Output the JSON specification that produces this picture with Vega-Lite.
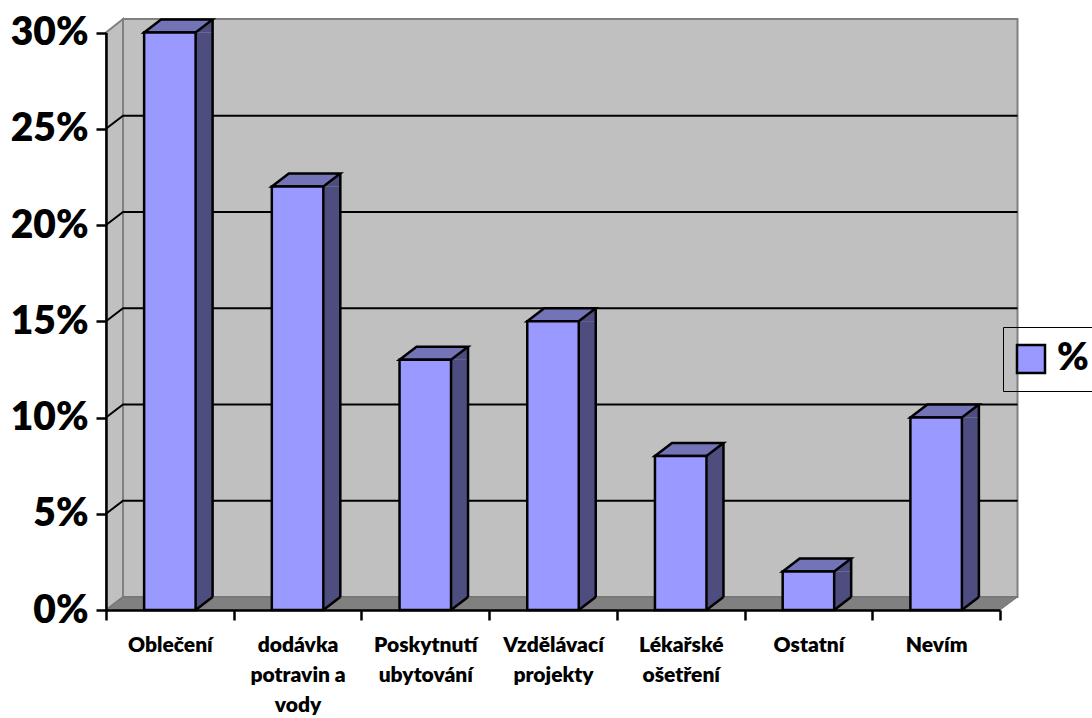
{
"$schema":"https://vega.github.io/schema/vega-lite/v6.json",
"width":911,"height":592,
"autosize":{"type":"none"},
"padding":{"left":106,"top":18,"right":75,"bottom":108},
"background":"white",
"view":{"stroke":null},
"datasets":{
 "bars":[
  {"category":"Oblečení","value":30},
  {"category":"dodávka potravin a vody","value":22},
  {"category":"Poskytnutí ubytování","value":13},
  {"category":"Vzdělávací projekty","value":15},
  {"category":"Lékařské ošetření","value":8},
  {"category":"Ostatní","value":2},
  {"category":"Nevím","value":10}
 ],
 "anchor":[{"category":"Oblečení","value":0}],
 "grid":[
  {"category":"Oblečení","value":5},
  {"category":"Oblečení","value":10},
  {"category":"Oblečení","value":15},
  {"category":"Oblečení","value":20},
  {"category":"Oblečení","value":25}
 ]
},
"data":{"name":"bars"},
"encoding":{
 "x":{"field":"category","type":"nominal","title":null,
  "scale":{"domain":["Oblečení","dodávka potravin a vody","Poskytnutí ubytování","Vzdělávací projekty","Lékařské ošetření","Ostatní","Nevím"],"range":[0,894],"paddingInner":0,"paddingOuter":0},
  "axis":{"tickBand":"extent","labelAngle":0,"domainColor":"black","domainWidth":2.5,"tickColor":"black","tickWidth":2.5,"tickSize":10,"labelFont":"Lato","labelFontWeight":800,"labelFontSize":21,"labelColor":"black","labelPadding":14,"labelLimit":0,"labelLineHeight":30,"labelBaseline":"top","labelExpr":"datum.value=='dodávka potravin a vody'?['dodávka','potravin a','vody']:datum.value=='Poskytnutí ubytování'?['Poskytnutí','ubytování']:datum.value=='Vzdělávací projekty'?['Vzdělávací','projekty']:datum.value=='Lékařské ošetření'?['Lékařské','ošetření']:datum.value","zindex":1}},
 "y":{"field":"value","type":"quantitative","title":null,
  "scale":{"domain":[0,30],"range":[592,14.5],"nice":false,"zero":false},
  "axis":{"values":[0,5,10,15,20,25,30],"labelExpr":"datum.value+'%'","grid":false,"domainColor":"black","domainWidth":2.5,"tickColor":"black","tickWidth":2.5,"tickSize":10,"labelFont":"Lato","labelFontWeight":800,"labelFontSize":39,"labelColor":"black","labelPadding":8,"zindex":1}}
},
"layer":[
 {"data":{"name":"anchor"},"mark":{"type":"point","filled":true,"opacity":1,"size":4,"fill":"#c0c0c0","stroke":"#808080","strokeWidth":2,"shape":"M-63.85 0 L-46.85 -13 L-46.85 -591 L-63.85 -577.5 Z"}},
 {"data":{"name":"anchor"},"mark":{"type":"point","filled":true,"opacity":1,"size":4,"fill":"#c0c0c0","stroke":"#808080","strokeWidth":2,"shape":"M-46.85 -13 L847.65 -13 L847.65 -591 L-46.85 -591 Z"}},
 {"data":{"name":"anchor"},"mark":{"type":"point","filled":true,"opacity":1,"size":4,"fill":"#808080","stroke":"#707070","strokeWidth":1,"shape":"M-63.85 0 L-46.85 -13 L847.65 -13 L830.15 0 Z"}},
 {"data":{"name":"grid"},"mark":{"type":"point","filled":false,"opacity":1,"size":4,"stroke":"black","strokeWidth":2,"shape":"M-63.85 0 L-46.85 -13 L847.65 -13"}},
 {"mark":{"type":"bar","width":17,"xOffset":34.25,"y2Offset":-13,"fill":"#4d4d80","stroke":null},"encoding":{"y2":{"datum":0}}},
 {"mark":{"type":"point","filled":true,"opacity":1,"size":4,"fill":"#4d4d80","stroke":null,"shape":"M25.75 0 L42.75 -13 L42.75 0 Z"}},
 {"mark":{"type":"point","filled":true,"opacity":1,"size":4,"fill":"#4d4d80","stroke":null,"shape":"M25.75 0 L42.75 -13 L25.75 -13 Z"},"encoding":{"y":{"datum":0}}},
 {"mark":{"type":"rule","xOffset":42.75,"yOffset":-13,"y2Offset":-13,"stroke":"black","strokeWidth":2.5},"encoding":{"y2":{"datum":0}}},
 {"mark":{"type":"point","filled":false,"opacity":1,"size":4,"stroke":"black","strokeWidth":2.5,"shape":"M25.75 0 L42.75 -13"},"encoding":{"y":{"datum":0}}},
 {"mark":{"type":"point","filled":true,"opacity":1,"size":4,"fill":"#7373b8","stroke":"black","strokeWidth":2.5,"shape":"M-25.75 0 L25.75 0 L42.75 -13 L-8.75 -13 Z"}},
 {"mark":{"type":"bar","width":51.5,"stroke":"black","strokeWidth":2.5},
  "encoding":{"y2":{"datum":0},
   "fill":{"datum":"%","type":"nominal","scale":{"range":["#9999ff"]},
    "legend":{"title":null,"orient":"none","legendX":897,"legendY":309,"strokeColor":"black","fillColor":"transparent","padding":13,"symbolType":"square","symbolSize":784,"symbolOffset":-4,"symbolStrokeColor":"black","symbolStrokeWidth":2.5,"labelFont":"Lato","labelFontWeight":800,"labelFontSize":38,"labelColor":"black","labelOffset":7,
     "encoding":{"legend":{"enter":{"strokeWidth":{"value":2.5}},"update":{"strokeWidth":{"value":2.5}}}}}}}}
],
"config":{"legend":{"strokeColor":"black"}}
}
